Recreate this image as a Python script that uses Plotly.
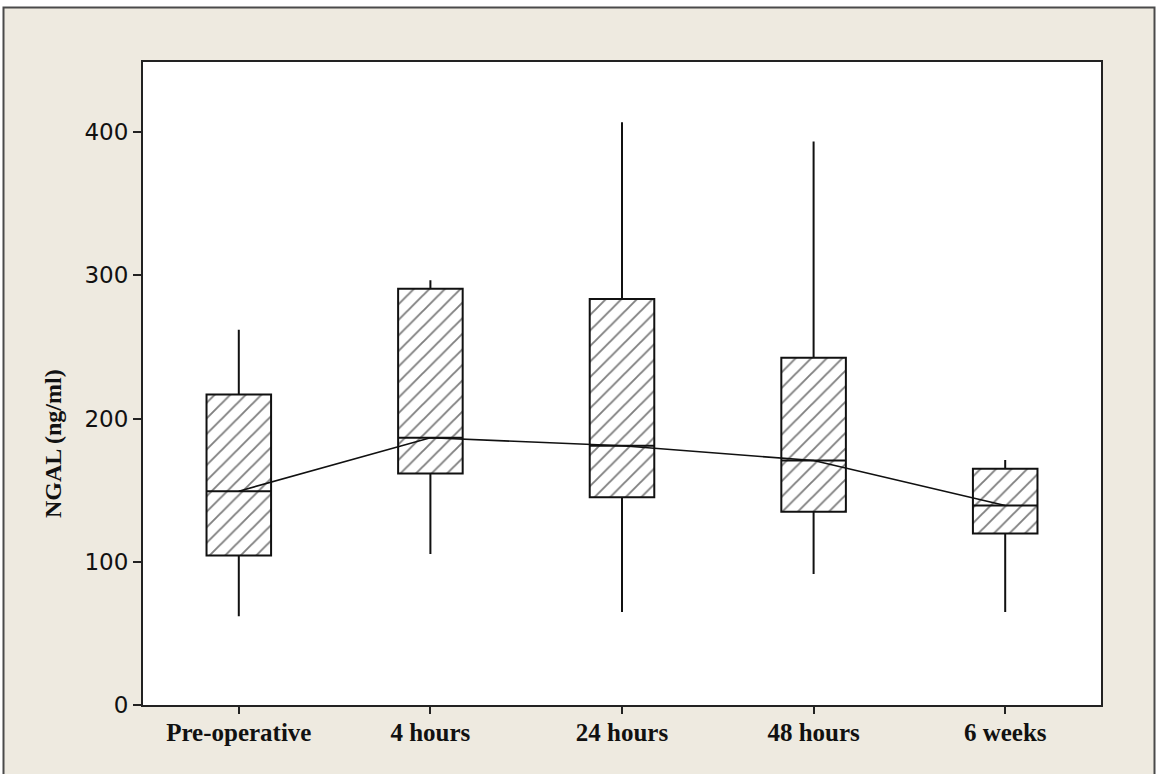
import plotly.graph_objects as go

categories = ["Pre-operative", "4 hours", "24 hours", "48 hours", "6 weeks"]
q1 = [104.4, 161.7, 145.0, 135.0, 119.8]
median = [149.3, 186.6, 181.0, 170.7, 139.3]
q3 = [216.8, 290.7, 283.5, 242.5, 164.9]
lower_whisker = [62.0, 105.4, 65.0, 91.5, 65.0]
upper_whisker = [262.0, 296.6, 407.0, 393.5, 171.0]
y_ticks = [0, 100, 200, 300, 400]

W, H = 1156, 774
L, R, T, B = 143, 1101, 62, 705

fig = go.Figure()

# hatched fill of the boxes
fig.add_trace(go.Bar(
    x=categories,
    y=[b - a for a, b in zip(q1, q3)],
    base=q1,
    width=0.337,
    marker=dict(
        color="white",
        line=dict(width=0),
        pattern=dict(shape="/", fgcolor="#000000", bgcolor="white", size=11, solidity=0.17),
    ),
    showlegend=False,
    hoverinfo="skip",
))

# box outlines and whiskers
fig.add_trace(go.Box(
    x=categories,
    q1=q1,
    median=median,
    q3=q3,
    lowerfence=lower_whisker,
    upperfence=upper_whisker,
    width=0.337,
    whiskerwidth=0,
    boxpoints=False,
    fillcolor="rgba(0,0,0,0)",
    line=dict(color="#111111", width=2),
    showlegend=False,
))

# median connect line
fig.add_trace(go.Scatter(
    x=categories,
    y=median,
    mode="lines",
    line=dict(color="#111111", width=1.6),
    showlegend=False,
    hoverinfo="skip",
))

def px_x(p):
    return (p - L) / (R - L)

def px_y(p):
    return (B - p) / (B - T)

# outer beige frame
fig.add_shape(type="rect", xref="paper", yref="paper",
              x0=px_x(3.5), x1=px_x(1154.5), y0=px_y(790), y1=px_y(7.5),
              fillcolor="#EEEAE0", line=dict(color="#4a4a4a", width=2), layer="below")
# white plot area
fig.add_shape(type="rect", xref="paper", yref="paper",
              x0=0, x1=1, y0=0, y1=1,
              fillcolor="white", line=dict(width=0), layer="below")

# y-axis title
fig.add_annotation(text="<b>NGAL (ng/ml)</b>", xref="paper", yref="paper",
                   x=px_x(53), y=px_y(444), textangle=-90, showarrow=False,
                   xanchor="center", yanchor="middle",
                   font=dict(family="Liberation Serif", size=24, color="#111111"))

fig.update_layout(
    width=W, height=H,
    margin=dict(l=L, r=W - R, t=T, b=H - B, pad=0),
    paper_bgcolor="white",
    plot_bgcolor="white",
    barmode="overlay",
    boxmode="overlay",
    showlegend=False,
)

fig.update_xaxes(
    type="category",
    range=[-0.5, 4.5],
    showline=True, mirror=True, linecolor="#222222", linewidth=2,
    ticks="outside", ticklen=7, tickwidth=1.5, tickcolor="#222222",
    ticklabelstandoff=-3,
    showgrid=False, zeroline=False,
    tickfont=dict(family="Liberation Serif", size=25, color="#111111", weight="bold"),
)

fig.update_yaxes(
    range=[0, 449],
    tickvals=y_ticks,
    showline=True, mirror=True, linecolor="#222222", linewidth=2,
    ticks="outside", ticklen=8, tickwidth=1.5, tickcolor="#222222",
    showgrid=False, zeroline=False,
    tickfont=dict(family="DejaVu Sans", size=23, color="#111111"),
)

fig.write_html("out.html")
